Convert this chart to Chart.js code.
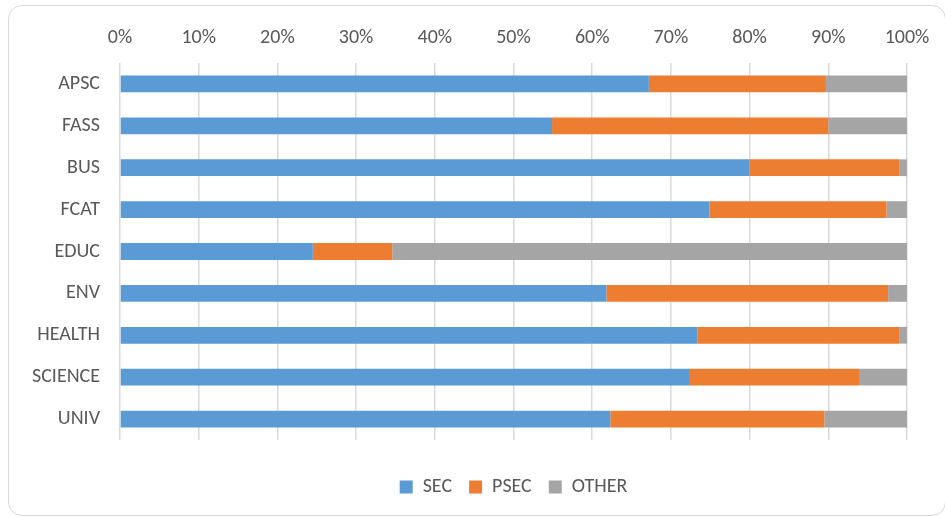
<!DOCTYPE html>
<html>
<head>
<title>Stacked share by faculty</title>
<style>
    body { margin: 0; background: #fff; }
    #frame {
        position: absolute; left: 8px; top: 5px;
        width: 936px; height: 509px;
        border: 1px solid #d9d9d9; border-radius: 14px;
    }
    #wrap { position: absolute; left: 0; top: 0; width: 945px; height: 517px; }
</style>
</head>
<body>

<div id="frame"></div>
<div id="wrap">
    <canvas id="myChart"></canvas>
</div>

<script src="https://cdn.jsdelivr.net/npm/chart.js"></script>

<script>

    const faculties = ['APSC', 'FASS', 'BUS', 'FCAT', 'EDUC', 'ENV', 'HEALTH', 'SCIENCE', 'UNIV'];
    const sec   = [67.2, 54.9, 80.0, 74.9, 24.5, 61.8, 73.4, 72.3, 62.3];
    const psec  = [22.5, 35.1, 19.0, 22.5, 10.1, 35.8, 25.6, 21.6, 27.2];
    const other = [10.3, 10.0,  1.0,  2.6, 65.4,  2.4,  1.0,  6.1, 10.5];

    const fontFamily = 'Carlito, Calibri, Lato, sans-serif';
    Chart.defaults.font.family = fontFamily;
    Chart.defaults.font.size = 20;
    Chart.defaults.color = '#595959';

    const ctx = document.getElementById('myChart');

    const data = {
        labels: faculties,
        datasets: [
            { label: 'SEC', data: sec, backgroundColor: '#5B9BD5' },
            { label: 'PSEC', data: psec, backgroundColor: '#ED7D31' },
            { label: 'OTHER', data: other, backgroundColor: '#A5A5A5' }
        ]
    };

    const config = {
        type: 'bar',
        data: data,
        options: {
            indexAxis: 'y',
            responsive: true,
            maintainAspectRatio: false,
            animation: false,
            datasets: {
                bar: { barPercentage: 0.4, categoryPercentage: 1.0, borderWidth: 0 }
            },
            layout: { padding: { left: 0, right: 38, top: 0, bottom: 10 } },
            scales: {
                x: {
                    position: 'top',
                    stacked: true,
                    min: 0,
                    max: 100,
                    ticks: {
                        stepSize: 10,
                        padding: 13,
                        callback: v => v + '%'
                    },
                    grid: { color: '#d9d9d9', lineWidth: 1.5, drawTicks: false },
                    border: { display: false },
                    afterFit: s => { s.height = 63; }
                },
                y: {
                    stacked: true,
                    ticks: { padding: 12 },
                    grid: { display: false },
                    border: { display: false },
                    afterFit: s => { s.width = 120; }
                },
                gap: {
                    type: 'linear',
                    position: 'bottom',
                    display: true,
                    grid: { display: false },
                    ticks: { display: false },
                    border: { display: false },
                    afterFit: s => { s.height = 20; }
                }
            },
            plugins: {
                legend: {
                    position: 'bottom',
                    fullSize: false,
                    labels: { boxWidth: 13, boxHeight: 13, padding: 17 }
                },
                tooltip: { enabled: false }
            }
        }
    };

    new Chart(ctx, config);

</script>

</body>
</html>
